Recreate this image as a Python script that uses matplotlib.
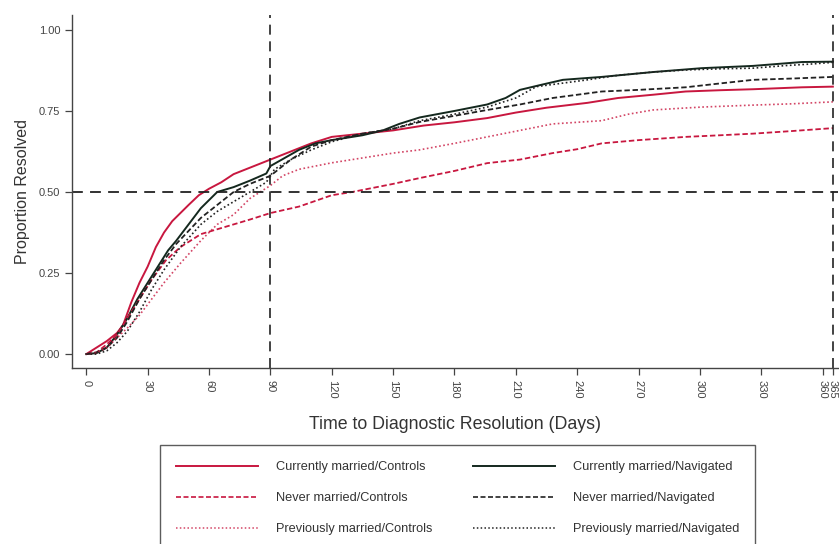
import matplotlib
matplotlib.use("Agg")
import matplotlib.pyplot as plt
from matplotlib.lines import Line2D

# ---- data ----
cm_ctrl_days = [0, 5, 10, 15, 18, 22, 26, 30, 34, 38, 42, 46, 50, 55, 60, 66, 72, 80, 90, 100, 110, 120,
                135, 150, 165, 180, 196, 210, 225, 245, 260, 277, 293, 310, 326, 350, 365]
cm_ctrl_vals = [0.00, 0.02, 0.04, 0.065, 0.09, 0.16, 0.22, 0.27, 0.33, 0.375, 0.41, 0.435, 0.46, 0.49, 0.51,
                0.53, 0.555, 0.575, 0.60, 0.625, 0.65, 0.67, 0.68, 0.69, 0.705, 0.715, 0.728, 0.745, 0.76,
                0.775, 0.79, 0.80, 0.81, 0.814, 0.817, 0.823, 0.825]

cm_nav_days = [0, 5, 10, 15, 20, 25, 30, 36, 40, 44, 50, 56, 64, 72, 80, 88, 90, 97, 104, 112, 120, 135,
               145, 153, 163, 180, 196, 205, 212, 222, 233, 252, 277, 301, 326, 350, 365]
cm_nav_vals = [0.0, 0.003, 0.02, 0.06, 0.11, 0.17, 0.22, 0.28, 0.32, 0.35, 0.40, 0.45, 0.50, 0.515, 0.535,
               0.557, 0.58, 0.605, 0.63, 0.65, 0.66, 0.675, 0.69, 0.71, 0.73, 0.75, 0.77, 0.79, 0.815,
               0.83, 0.846, 0.855, 0.87, 0.882, 0.889, 0.901, 0.902]

nm_ctrl_days = [0, 5, 10, 15, 20, 26, 32, 39, 46, 56, 64, 72, 80, 90, 104, 120, 130, 150, 163, 180, 196,
                212, 228, 240, 252, 270, 293, 310, 326, 345, 365]
nm_ctrl_vals = [0.0, 0.005, 0.03, 0.06, 0.11, 0.17, 0.23, 0.29, 0.33, 0.37, 0.385, 0.40, 0.415, 0.435,
                0.455, 0.49, 0.50, 0.525, 0.543, 0.565, 0.589, 0.60, 0.62, 0.632, 0.65, 0.66, 0.67,
                0.675, 0.68, 0.688, 0.697]

nm_nav_days = [0, 5, 10, 15, 20, 26, 32, 38, 44, 50, 56, 64, 72, 80, 90, 100, 110, 120, 135, 150, 163,
               180, 196, 212, 228, 240, 252, 270, 293, 310, 326, 345, 365]
nm_nav_vals = [0.0, 0.005, 0.02, 0.05, 0.10, 0.17, 0.23, 0.29, 0.34, 0.38, 0.42, 0.46, 0.50, 0.525, 0.55,
               0.60, 0.64, 0.66, 0.68, 0.695, 0.716, 0.735, 0.753, 0.77, 0.79, 0.80, 0.81, 0.815, 0.823,
               0.835, 0.846, 0.85, 0.855]

pm_ctrl_days = [0, 5, 10, 15, 20, 26, 32, 38, 46, 56, 64, 72, 80, 90, 96, 104, 120, 135, 150, 163, 180,
                196, 212, 228, 240, 252, 265, 277, 290, 301, 326, 345, 365]
pm_ctrl_vals = [0.0, 0.003, 0.02, 0.05, 0.08, 0.12, 0.17, 0.22, 0.28, 0.35, 0.40, 0.43, 0.48, 0.52, 0.55,
                0.57, 0.59, 0.605, 0.62, 0.63, 0.65, 0.67, 0.69, 0.71, 0.715, 0.72, 0.74, 0.753, 0.758,
                0.762, 0.768, 0.772, 0.778]

pm_nav_days = [0, 5, 10, 15, 20, 26, 32, 38, 46, 56, 64, 72, 80, 88, 92, 100, 110, 120, 135, 150, 163,
               180, 196, 210, 220, 232, 245, 260, 277, 295, 310, 326, 342, 355, 365]
pm_nav_vals = [0.0, 0.0, 0.01, 0.035, 0.07, 0.13, 0.20, 0.26, 0.33, 0.40, 0.44, 0.47, 0.50, 0.53, 0.57,
               0.60, 0.63, 0.655, 0.68, 0.695, 0.72, 0.74, 0.762, 0.79, 0.825, 0.835, 0.846, 0.86, 0.87,
               0.877, 0.88, 0.882, 0.89, 0.895, 0.90]

x_ticks = [0, 30, 60, 90, 120, 150, 180, 210, 240, 270, 300, 330, 360, 365]
y_ticks = [0.0, 0.25, 0.5, 0.75, 1.0]
y_ticklabels = ["0.00", "0.25", "0.50", "0.75", "1.00"]
labels_controls = ["Currently married/Controls", "Never married/Controls", "Previously married/Controls"]
labels_navigated = ["Currently married/Navigated", "Never married/Navigated", "Previously married/Navigated"]

RED = "#c8173f"
DARK = "#14281e"
BLACK = "#222222"

plt.rcParams['font.family'] = ['Liberation Sans', 'DejaVu Sans']

fig = plt.figure(figsize=(8.39, 5.44), dpi=100)
ax = fig.add_axes([72 / 839, 1 - 368 / 544, (838 - 72) / 839, (368 - 15) / 544])

ax.plot(cm_ctrl_days, cm_ctrl_vals, color=RED, lw=1.4, ls='-')
ax.plot(cm_nav_days, cm_nav_vals, color=DARK, lw=1.4, ls='-')
ax.plot(nm_ctrl_days, nm_ctrl_vals, color=RED, lw=1.3, ls=(0, (3, 1.5)))
ax.plot(nm_nav_days, nm_nav_vals, color=BLACK, lw=1.3, ls=(0, (3, 1.5)))
ax.plot(pm_ctrl_days, pm_ctrl_vals, color=RED, lw=1.2, ls=(0, (1, 1.5)), alpha=0.8)
ax.plot(pm_nav_days, pm_nav_vals, color=BLACK, lw=1.2, ls=(0, (1, 1.5)))

ax.axhline(0.5, color=BLACK, lw=1.3, ls=(0, (6, 4)))
ax.axvline(90, color=BLACK, lw=1.2, ls=(0, (6, 4)))
ax.axvline(365, color=BLACK, lw=1.2, ls=(0, (6, 4)))

ax.set_xlim(-7, 367.5)
ax.set_ylim(-0.043, 1.046)
for s in ['top', 'right']:
    ax.spines[s].set_visible(False)
for s in ['left', 'bottom']:
    ax.spines[s].set_color('#444444')
    ax.spines[s].set_linewidth(1.0)

ax.set_yticks(y_ticks)
ax.set_yticklabels(y_ticklabels, fontsize=8, color='#444444')
ax.set_xticks(x_ticks)
ax.set_xticklabels([str(t) for t in x_ticks], fontsize=8, color='#444444', rotation=270)
ax.tick_params(axis='both', direction='out', length=5, width=0.9, color='#444444')
ax.tick_params(axis='x', pad=4)

ax.set_ylabel("Proportion Resolved", fontsize=11.5, color='#333333', labelpad=6)
ax.set_xlabel("Time to Diagnostic Resolution (Days)", fontsize=12.8, color='#333333', labelpad=12)

h_controls = [
    Line2D([], [], color=RED, lw=1.4, ls='-'),
    Line2D([], [], color=RED, lw=1.2, ls=(0, (3, 1.5))),
    Line2D([], [], color=RED, lw=1.1, ls=(0, (1, 1.5)), alpha=0.8),
]
h_navigated = [
    Line2D([], [], color=DARK, lw=1.4, ls='-'),
    Line2D([], [], color=BLACK, lw=1.2, ls=(0, (3, 1.5))),
    Line2D([], [], color=BLACK, lw=1.1, ls=(0, (1, 1.5))),
]
leg = fig.legend(h_controls + h_navigated, labels_controls + labels_navigated, ncol=2, loc='upper left',
                 bbox_to_anchor=(160 / 839, 1 - 445 / 544), fontsize=9.2,
                 frameon=True, fancybox=False, edgecolor='#333333',
                 handlelength=6.4, handletextpad=1.4, columnspacing=3.2,
                 labelspacing=1.5, borderpad=1.25, borderaxespad=0)
leg.get_frame().set_linewidth(1.0)
for t in leg.get_texts():
    t.set_color('#333333')

fig.savefig("out.png", dpi=100)
